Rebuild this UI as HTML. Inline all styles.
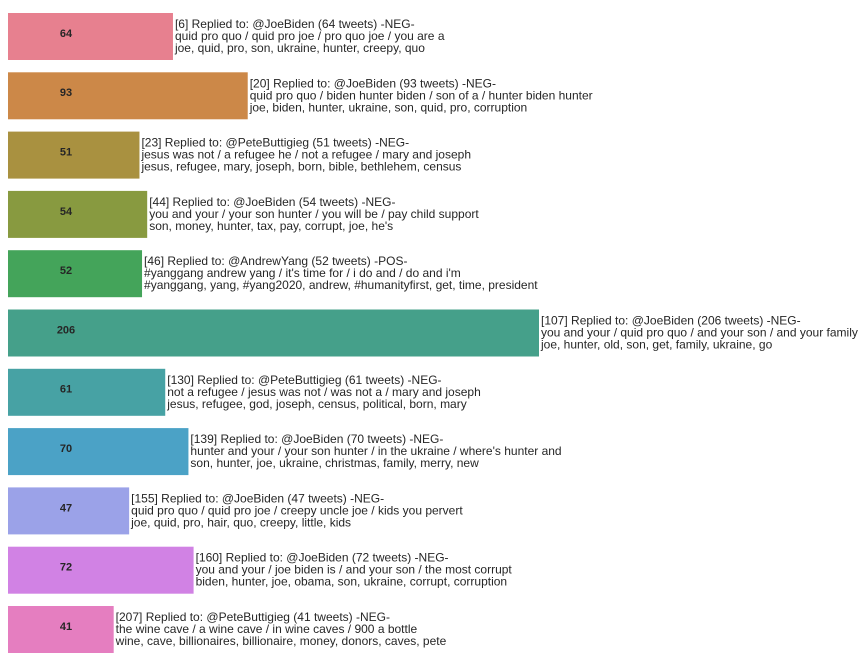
<!DOCTYPE html>
<html><head><meta charset="utf-8"><style>
body{margin:0;background:#fff;width:868px;height:666px;overflow:hidden;font-family:"Liberation Sans",sans-serif}
svg text{font-family:"Liberation Sans",sans-serif}
</style></head><body>
<svg id="chart" width="868" height="666" xmlns="http://www.w3.org/2000/svg"></svg>
<script>
const values=[64,93,51,54,52,206,61,70,47,72,41];
const titles=["[6] Replied to: @JoeBiden (64 tweets) -NEG-","[20] Replied to: @JoeBiden (93 tweets) -NEG-","[23] Replied to: @PeteButtigieg (51 tweets) -NEG-","[44] Replied to: @JoeBiden (54 tweets) -NEG-","[46] Replied to: @AndrewYang (52 tweets) -POS-","[107] Replied to: @JoeBiden (206 tweets) -NEG-","[130] Replied to: @PeteButtigieg (61 tweets) -NEG-","[139] Replied to: @JoeBiden (70 tweets) -NEG-","[155] Replied to: @JoeBiden (47 tweets) -NEG-","[160] Replied to: @JoeBiden (72 tweets) -NEG-","[207] Replied to: @PeteButtigieg (41 tweets) -NEG-"];
const phrases=["quid pro quo / quid pro joe / pro quo joe / you are a","quid pro quo / biden hunter biden / son of a / hunter biden hunter","jesus was not / a refugee he / not a refugee / mary and joseph","you and your / your son hunter / you will be / pay child support","#yanggang andrew yang / it's time for / i do and / do and i'm","you and your / quid pro quo / and your son / and your family","not a refugee / jesus was not / was not a / mary and joseph","hunter and your / your son hunter / in the ukraine / where's hunter and","quid pro quo / quid pro joe / creepy uncle joe / kids you pervert","you and your / joe biden is / and your son / the most corrupt","the wine cave / a wine cave / in wine caves / 900 a bottle"];
const words=["joe, quid, pro, son, ukraine, hunter, creepy, quo","joe, biden, hunter, ukraine, son, quid, pro, corruption","jesus, refugee, mary, joseph, born, bible, bethlehem, census","son, money, hunter, tax, pay, corrupt, joe, he's","#yanggang, yang, #yang2020, andrew, #humanityfirst, get, time, president","joe, hunter, old, son, get, family, ukraine, go","jesus, refugee, god, joseph, census, political, born, mary","son, hunter, joe, ukraine, christmas, family, merry, new","joe, quid, pro, hair, quo, creepy, little, kids","biden, hunter, joe, obama, son, ukraine, corrupt, corruption","wine, cave, billionaires, billionaire, money, donors, caves, pete"];
const colors=["#e7808f","#cc8848","#a99140","#889a40","#44a45a","#45a08a","#47a2a4","#4ba2c6","#9ba2e8","#d182e4","#e57ec0"];
const svg=document.getElementById('chart');const NS="http://www.w3.org/2000/svg";
const x0=8,k=(539-8)/206;const xs=v=>x0+v*k;
const ys=i=>13+i*59.3;const bh=47;
values.forEach((v,i)=>{
 const g=document.createElementNS(NS,'g');
 
 
 const r=document.createElementNS(NS,'rect');
 
 
 r.setAttribute('x',x0);r.setAttribute('y',ys(i));r.setAttribute('width',xs(v)-x0);r.setAttribute('height',bh);r.setAttribute('fill',colors[i]);
 g.appendChild(r);
 const t=document.createElementNS(NS,'text');
 
 
 t.setAttribute('x',66);t.setAttribute('y',ys(i)+21);t.setAttribute('text-anchor','middle');t.setAttribute('dominant-baseline','middle');
 t.setAttribute('font-size','11');t.setAttribute('font-weight','bold');t.setAttribute('fill','#262626');t.textContent=v;
 g.appendChild(t);
 [titles[i],phrases[i],words[i]].forEach((s,j)=>{
  const a=document.createElementNS(NS,'text');
  
  
  a.setAttribute('x',xs(v)+2);a.setAttribute('y',ys(i)+15+j*12);
  a.setAttribute('font-size','12');a.setAttribute('fill','#262626');a.textContent=s;
  g.appendChild(a);
 });
 svg.appendChild(g);
});
</script>
</body></html>
